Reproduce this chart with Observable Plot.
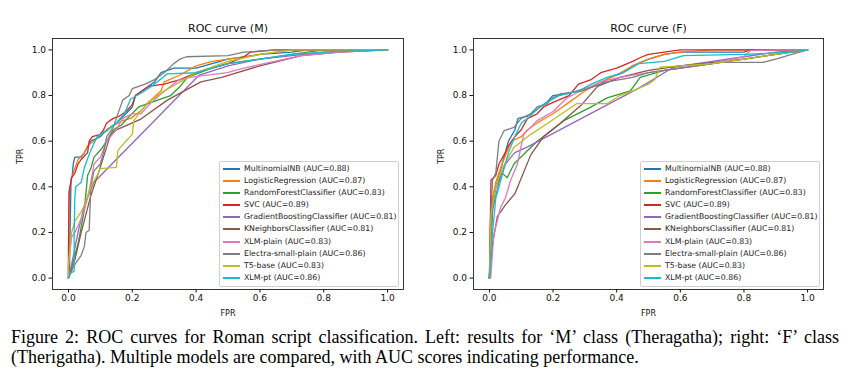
<!DOCTYPE html>
<html><head><meta charset="utf-8">
<script src="https://cdn.jsdelivr.net/npm/d3@7"></script>
<script src="https://cdn.jsdelivr.net/npm/@observablehq/plot@0.6"></script>
<style>
html,body{margin:0;padding:0;background:#fff;}
body{width:866px;height:381px;overflow:hidden;position:relative;}
.panel{position:absolute;top:0;}
.legend{position:absolute;top:161px;width:178px;height:124px;border:1px solid #d0d0d0;border-radius:2px;background:rgba(255,255,255,0.85);font-family:"DejaVu Sans";font-size:7.8px;color:#222;}
.row{position:absolute;left:0;height:10px;width:100%;}
.row .sw{position:absolute;left:3px;top:4px;width:17px;height:2px;}
.row .lb{position:absolute;left:24px;top:0;line-height:10px;white-space:nowrap;}
#caption{position:absolute;left:11px;top:328px;width:828px;font-family:"Liberation Serif";font-size:18px;line-height:19.5px;color:#000;text-align:justify;}
</style></head>
<body>
<div id="left" class="panel" style="left:0"></div>
<div id="right" class="panel" style="left:433px"></div>
<div id="caption">Figure 2: ROC curves for Roman script classification. Left: results for ‘M’ class (Theragatha); right: ‘F’ class (Therigatha). Multiple models are compared, with AUC scores indicating performance.</div>
<script>
const models = ["MultinomialNB","LogisticRegression","RandomForestClassifier","SVC","GradientBoostingClassifier","KNeighborsClassifier","XLM-plain","Electra-small-plain","T5-base","XLM-pt"];
const auc = [0.88,0.87,0.83,0.89,0.81,0.81,0.83,0.86,0.83,0.86];
const colors = ["#1f77b4","#ff7f0e","#2ca02c","#d62728","#9467bd","#8c564b","#e377c2","#7f7f7f","#bcbd22","#17becf"];
const ticks = [0,0.2,0.4,0.6,0.8,1.0];

// ROC (M) — [FPR, TPR]
const mNB = [[0,0],[0.003,0.02],[0.005,0.2],[0.008,0.43],[0.012,0.45],[0.015,0.5],[0.02,0.53],[0.04,0.53],[0.05,0.55],[0.07,0.6],[0.1,0.62],[0.12,0.65],[0.15,0.68],[0.18,0.72],[0.2,0.75],[0.21,0.8],[0.24,0.83],[0.27,0.86],[0.29,0.9],[0.33,0.92],[0.4,0.92],[0.45,0.94],[0.5,0.96],[0.6,0.98],[0.7,0.99],[0.75,1],[1,1]];
const mLR = [[0,0],[0.002,0.38],[0.01,0.44],[0.02,0.48],[0.03,0.52],[0.05,0.55],[0.06,0.58],[0.08,0.6],[0.1,0.63],[0.13,0.66],[0.17,0.69],[0.195,0.7],[0.227,0.733],[0.25,0.77],[0.29,0.82],[0.3,0.86],[0.35,0.89],[0.4,0.93],[0.45,0.95],[0.5,0.96],[0.6,0.98],[0.7,1],[1,1]];
const mRF = [[0,0],[0.01,0.05],[0.03,0.15],[0.05,0.3],[0.06,0.45],[0.07,0.48],[0.08,0.53],[0.1,0.56],[0.12,0.6],[0.14,0.65],[0.165,0.67],[0.185,0.7],[0.22,0.75],[0.28,0.78],[0.32,0.8],[0.35,0.84],[0.373,0.88],[0.457,0.924],[0.5,0.94],[0.6,0.96],[0.7,0.98],[0.8,1],[1,1]];
const mSVC = [[0,0],[0,0.13],[0.002,0.375],[0.01,0.44],[0.02,0.46],[0.03,0.5],[0.04,0.52],[0.06,0.55],[0.065,0.6],[0.075,0.62],[0.1,0.63],[0.11,0.65],[0.12,0.68],[0.14,0.7],[0.16,0.71],[0.18,0.73],[0.2,0.76],[0.21,0.8],[0.23,0.82],[0.25,0.84],[0.3,0.85],[0.35,0.87],[0.4,0.9],[0.5,0.94],[0.55,0.97],[0.57,0.99],[0.65,1],[1,1]];
const mGB = [[0,0],[0.01,0.06],[0.03,0.2],[0.05,0.32],[0.08,0.42],[0.41,0.89],[0.5,0.93],[0.6,0.96],[0.8,0.99],[1,1]];
const mKN = [[0,0],[0.01,0.03],[0.02,0.08],[0.04,0.2],[0.07,0.36],[0.096,0.47],[0.13,0.62],[0.143,0.645],[0.227,0.697],[0.31,0.78],[0.415,0.86],[0.48,0.88],[0.6,0.93],[0.73,0.975],[0.85,0.99],[1,1]];
const mXP = [[0,0],[0,0.06],[0.005,0.12],[0.01,0.18],[0.02,0.2],[0.04,0.26],[0.05,0.3],[0.06,0.35],[0.07,0.42],[0.08,0.5],[0.1,0.53],[0.12,0.6],[0.15,0.65],[0.17,0.7],[0.2,0.72],[0.227,0.72],[0.26,0.77],[0.29,0.807],[0.342,0.865],[0.38,0.88],[0.498,0.9],[0.55,0.92],[0.634,0.946],[0.73,0.975],[0.85,0.99],[1,1]];
const mEL = [[0,0],[0.01,0.04],[0.02,0.06],[0.03,0.08],[0.04,0.1],[0.05,0.14],[0.055,0.2],[0.065,0.21],[0.07,0.4],[0.08,0.47],[0.1,0.5],[0.11,0.55],[0.12,0.62],[0.14,0.66],[0.15,0.7],[0.17,0.78],[0.19,0.8],[0.2,0.83],[0.24,0.85],[0.27,0.87],[0.3,0.9],[0.33,0.94],[0.35,0.96],[0.37,0.97],[0.5,0.975],[0.55,0.99],[0.65,1],[1,1]];
const mT5 = [[0,0],[0,0.06],[0.01,0.2],[0.02,0.25],[0.04,0.29],[0.05,0.32],[0.06,0.36],[0.07,0.4],[0.09,0.45],[0.1,0.48],[0.15,0.485],[0.155,0.56],[0.18,0.6],[0.2,0.63],[0.205,0.69],[0.22,0.72],[0.25,0.77],[0.3,0.82],[0.35,0.86],[0.4,0.9],[0.5,0.95],[0.6,0.98],[0.7,1],[1,1]];
const mXT = [[0,0],[0.005,0.02],[0.018,0.03],[0.018,0.2],[0.02,0.35],[0.023,0.4],[0.04,0.42],[0.05,0.485],[0.07,0.56],[0.09,0.62],[0.12,0.645],[0.15,0.68],[0.175,0.72],[0.195,0.785],[0.227,0.81],[0.26,0.84],[0.31,0.895],[0.4,0.9],[0.45,0.92],[0.5,0.94],[0.6,0.96],[0.7,0.98],[0.8,0.99],[1,1]];

// ROC (F) — [FPR, TPR]
const fNB = [[0,0],[0.005,0.2],[0.01,0.35],[0.02,0.4],[0.03,0.45],[0.04,0.5],[0.05,0.55],[0.06,0.6],[0.08,0.65],[0.09,0.7],[0.12,0.71],[0.15,0.74],[0.18,0.77],[0.2,0.8],[0.25,0.81],[0.3,0.83],[0.35,0.85],[0.38,0.88],[0.42,0.9],[0.45,0.93],[0.5,0.96],[0.55,0.98],[0.6,0.99],[0.8,0.99],[0.82,1],[1,1]];
const fLR = [[0,0],[0.003,0.25],[0.01,0.35],[0.02,0.42],[0.04,0.5],[0.06,0.57],[0.07,0.6],[0.1,0.62],[0.12,0.65],[0.15,0.68],[0.2,0.72],[0.25,0.77],[0.3,0.82],[0.35,0.86],[0.4,0.89],[0.45,0.93],[0.5,0.96],[0.55,0.98],[0.6,0.99],[0.7,1],[1,1]];
const fRF = [[0,0],[0.01,0.3],[0.02,0.4],[0.04,0.46],[0.056,0.44],[0.077,0.5],[0.119,0.558],[0.15,0.6],[0.18,0.63],[0.234,0.69],[0.317,0.748],[0.37,0.79],[0.443,0.82],[0.474,0.88],[0.55,0.91],[0.6,0.92],[0.7,0.94],[0.8,0.96],[0.9,0.98],[1,1]];
const fSVC = [[0,0],[0.005,0.43],[0.02,0.45],[0.03,0.5],[0.05,0.55],[0.06,0.58],[0.08,0.62],[0.1,0.65],[0.12,0.7],[0.15,0.72],[0.17,0.75],[0.2,0.77],[0.25,0.8],[0.28,0.85],[0.32,0.87],[0.35,0.9],[0.4,0.92],[0.45,0.95],[0.48,0.97],[0.5,0.98],[0.55,0.99],[0.6,1],[1,1]];
const fGB = [[0,0],[0.005,0.2],[0.01,0.3],[0.03,0.42],[0.05,0.5],[0.08,0.55],[0.12,0.575],[0.474,0.836],[0.578,0.924],[0.7,0.95],[0.8,0.97],[0.9,0.99],[1,1]];
const fKN = [[0,0],[0.004,0.06],[0.01,0.15],[0.025,0.27],[0.05,0.32],[0.08,0.37],[0.13,0.54],[0.17,0.62],[0.22,0.675],[0.29,0.76],[0.34,0.84],[0.41,0.88],[0.5,0.91],[0.6,0.93],[0.8,0.96],[0.9,0.98],[1,1]];
const fXP = [[0,0],[0.004,0.0],[0.01,0.12],[0.014,0.19],[0.035,0.31],[0.05,0.35],[0.067,0.43],[0.088,0.5],[0.1,0.58],[0.108,0.63],[0.15,0.69],[0.2,0.73],[0.244,0.79],[0.286,0.82],[0.35,0.86],[0.41,0.88],[0.5,0.9],[0.6,0.92],[0.7,0.94],[0.8,0.97],[0.82,0.997],[0.9,1],[1,1]];
const fEL = [[0,0],[0.004,0.1],[0.005,0.3],[0.01,0.43],[0.02,0.46],[0.03,0.6],[0.046,0.646],[0.077,0.66],[0.1,0.7],[0.13,0.72],[0.15,0.75],[0.18,0.763],[0.2,0.79],[0.223,0.807],[0.29,0.82],[0.37,0.86],[0.45,0.88],[0.5,0.9],[0.6,0.92],[0.73,0.945],[0.86,0.945],[0.9,0.96],[0.95,0.98],[1,1]];
const fT5 = [[0,0],[0.005,0.28],[0.02,0.4],[0.04,0.48],[0.06,0.53],[0.077,0.572],[0.13,0.63],[0.18,0.675],[0.275,0.765],[0.37,0.765],[0.41,0.8],[0.45,0.82],[0.5,0.85],[0.52,0.87],[0.536,0.924],[0.6,0.93],[0.7,0.94],[0.8,0.96],[0.9,0.98],[1,1]];
const fXT = [[0,0],[0.005,0.1],[0.01,0.2],[0.02,0.35],[0.04,0.45],[0.06,0.55],[0.08,0.62],[0.1,0.68],[0.12,0.7],[0.15,0.74],[0.18,0.77],[0.22,0.8],[0.28,0.82],[0.32,0.85],[0.37,0.88],[0.42,0.9],[0.47,0.94],[0.55,0.95],[0.61,0.975],[0.8,0.98],[0.95,0.99],[1,1]];

const curvesM = [mNB,mLR,mRF,mSVC,mGB,mKN,mXP,mEL,mT5,mXT];
const curvesF = [fNB,fLR,fRF,fSVC,fGB,fKN,fXP,fEL,fT5,fXT];
const labels = models.map((m,i)=>`${m} (AUC=${auc[i].toFixed(2)})`);

function panel(curves, title, ml, mr) {
  const data = curves.flatMap((c,i)=>c.map(([x,y])=>({model:models[i], fpr:x, tpr:y})));
  return Plot.plot({
    width:433, height:320, marginLeft:ml, marginRight:mr, marginTop:38, marginBottom:31,
    x:{domain:[-0.05,1.05]}, y:{domain:[-0.05,1.05]},
    color:{domain:models, range:colors},
    style:{fontFamily:"DejaVu Sans", fontSize:"9px", color:"#111", background:"white", overflow:"visible"},
    marks:[
      Plot.line(data,{x:"fpr",y:"tpr",z:"model",stroke:"model",strokeWidth:1.3}),
      Plot.frame({stroke:"#222", strokeWidth:0.9}),
      Plot.axisX({ticks, tickFormat:d=>d.toFixed(1), tickSize:3.5, tickPadding:2, label:null, fontSize:9}),
      Plot.axisY({ticks, tickFormat:d=>d.toFixed(1), tickSize:3.5, tickPadding:3, label:null, fontSize:9}),
      Plot.text([title],{frameAnchor:"top", dy:-10, lineAnchor:"middle", fontSize:11, fill:"#111"}),
      Plot.text(["FPR"],{frameAnchor:"bottom", dy:24, lineAnchor:"middle", fontSize:8, fill:"#111"}),
      Plot.text(["TPR"],{frameAnchor:"left", dx:-32, rotate:-90, fontSize:8, fill:"#111"})
    ]
  });
}

function legend(left) {
  const div = document.createElement("div");
  div.className = "legend";
  div.style.left = left + "px";
  labels.forEach((t,i)=>{
    const r = document.createElement("div");
    r.className = "row";
    r.style.top = (1.7 + i*12.15) + "px";
    const s = document.createElement("div"); s.className="sw"; s.style.background = colors[i];
    const l = document.createElement("div"); l.className="lb"; l.textContent = t;
    r.appendChild(s); r.appendChild(l); div.appendChild(r);
  });
  document.body.appendChild(div);
}

document.getElementById("left").appendChild(panel(curvesM, "ROC curve (M)", 52, 30));
document.getElementById("right").appendChild(panel(curvesF, "ROC curve (F)", 40, 43));
legend(219);
legend(640);
</script>
</body></html>
